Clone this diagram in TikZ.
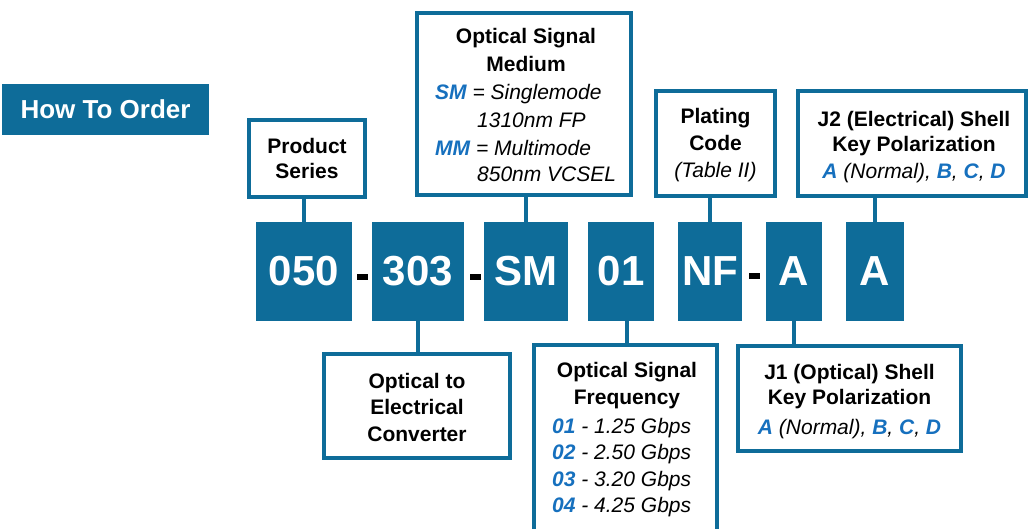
\documentclass[tikz,border=0pt]{standalone}
\usepackage{fontspec}
\setmainfont{Liberation Sans}
\definecolor{boxblue}{RGB}{14,108,153}
\definecolor{acc}{RGB}{22,112,190}
\newcommand{\ac}[1]{\textcolor{acc}{\bfseries\itshape #1}}
\begin{document}
\begin{tikzpicture}[x=1pt,y=-1pt,
  lbl/.style={draw=boxblue,line width=4pt,fill=white,inner sep=0pt},
  codebox/.style={fill=boxblue,inner sep=0pt,text=white,minimum height=99pt,font=\fontsize{42}{42}\selectfont\bfseries},
  conn/.style={draw=boxblue,line width=4pt},
  txt/.style={anchor=base,inner sep=0pt,font=\fontsize{21}{26}\selectfont\bfseries},
  itx/.style={anchor=base,inner sep=0pt,font=\fontsize{21}{26}\selectfont\itshape},
  itl/.style={anchor=base west,inner sep=0pt,font=\fontsize{21}{26}\selectfont\itshape},
  dashbar/.style={fill=black,inner sep=0pt,minimum width=11pt,minimum height=6pt}
]
\useasboundingbox (0,0) rectangle (1032,529);
\clip (0,0) rectangle (1032,529);

% title
\node[fill=boxblue,text=white,inner sep=0pt,minimum width=207pt,minimum height=51pt,
  font=\fontsize{26}{26}\selectfont\bfseries] (title) at (105.5,109.5) {How To Order};

% code boxes
\node[codebox,minimum width=96pt] (c1) at (304,271.5) {050};
\node[codebox,minimum width=92pt] (c2) at (418,271.5) {303};
\node[codebox,minimum width=84pt] (c3) at (526,271.5) {SM};
\node[codebox,minimum width=66pt] (c4) at (621,271.5) {01};
\node[codebox,minimum width=64pt] (c5) at (710,271.5) {NF};
\node[codebox,minimum width=56pt] (c6) at (794,271.5) {A};
\node[codebox,minimum width=58pt] (c7) at (875,271.5) {A};

% dashes
\node[dashbar] (d1) at (362.5,276.5) {};
\node[dashbar] (d2) at (475,276.5) {};
\node[dashbar] (d3) at (754.5,276) {};

% label boxes
\node[lbl,minimum width=116pt,minimum height=77pt] (ps) at (307,158.5) {};
\node[lbl,minimum width=214pt,minimum height=182pt] (med) at (524,104) {};
\node[lbl,minimum width=119pt,minimum height=105pt] (plat) at (715.5,143.5) {};
\node[lbl,minimum width=228pt,minimum height=105pt] (jtwo) at (912,143.5) {};
\node[lbl,minimum width=186pt,minimum height=104pt] (oe) at (417,406) {};
\node[lbl,minimum width=183pt,minimum height=213pt] (freq) at (625.5,451.5) {};
\node[lbl,minimum width=223pt,minimum height=105pt] (jone) at (849.5,398.5) {};

% connectors
\draw[conn] (c1.north) -- (c1.north |- ps.south);
\draw[conn] (c3.north) -- (c3.north |- med.south);
\draw[conn] (c5.north) -- (c5.north |- plat.south);
\draw[conn] (c7.north) -- (c7.north |- jtwo.south);
\draw[conn] (c2.south) -- (c2.south |- oe.north);
\draw[conn] ([xshift=6pt]c4.south) -- ([xshift=6pt]c4.south |- freq.north);
\draw[conn] (c6.south) -- (c6.south |- jone.north);

% texts: product series
\node[txt] (ps1) at (307,154) {Product};
\node[txt] (ps2) at (307,179) {Series};
% medium
\node[txt] (m1) at (526,44) {Optical Signal};
\node[txt] (m2) at (526,72) {Medium};
\node[itl] (m3) at (435,100) {\ac{SM} = Singlemode};
\node[itl] (m4) at (477,128) {1310nm FP};
\node[itl] (m5) at (435,155.5) {\ac{MM} = Multimode};
\node[itl] (m6) at (477,182) {850nm VCSEL};
% plating
\node[txt] (p1) at (715.5,124) {Plating};
\node[txt] (p2) at (715.5,151) {Code};
\node[itx] (p3) at (715.5,178) {(Table II)};
% J2
\node[txt] (j21) at (914,127) {J2 (Electrical) Shell};
\node[txt] (j22) at (914,152) {Key Polarization};
\node[itx] (j23) at (914,178.5) {\ac{A} (Normal), \ac{B}, \ac{C}, \ac{D}};
% optical to electrical
\node[txt] (o1) at (417,388) {Optical to};
\node[txt] (o2) at (417,414) {Electrical};
\node[txt] (o3) at (417,441) {Converter};
% frequency
\node[txt] (f1) at (627,377) {Optical Signal};
\node[txt] (f2) at (627,404) {Frequency};
\node[itl] (f3) at (552,433) {\ac{01} - 1.25 Gbps};
\node[itl] (f4) at (552,459.5) {\ac{02} - 2.50 Gbps};
\node[itl] (f5) at (552,486) {\ac{03} - 3.20 Gbps};
\node[itl] (f6) at (552,512) {\ac{04} - 4.25 Gbps};
% J1
\node[txt] (j11) at (849.5,379) {J1 (Optical) Shell};
\node[txt] (j12) at (849.5,404.5) {Key Polarization};
\node[itx] (j13) at (849.5,434) {\ac{A} (Normal), \ac{B}, \ac{C}, \ac{D}};
\end{tikzpicture}
\end{document}
